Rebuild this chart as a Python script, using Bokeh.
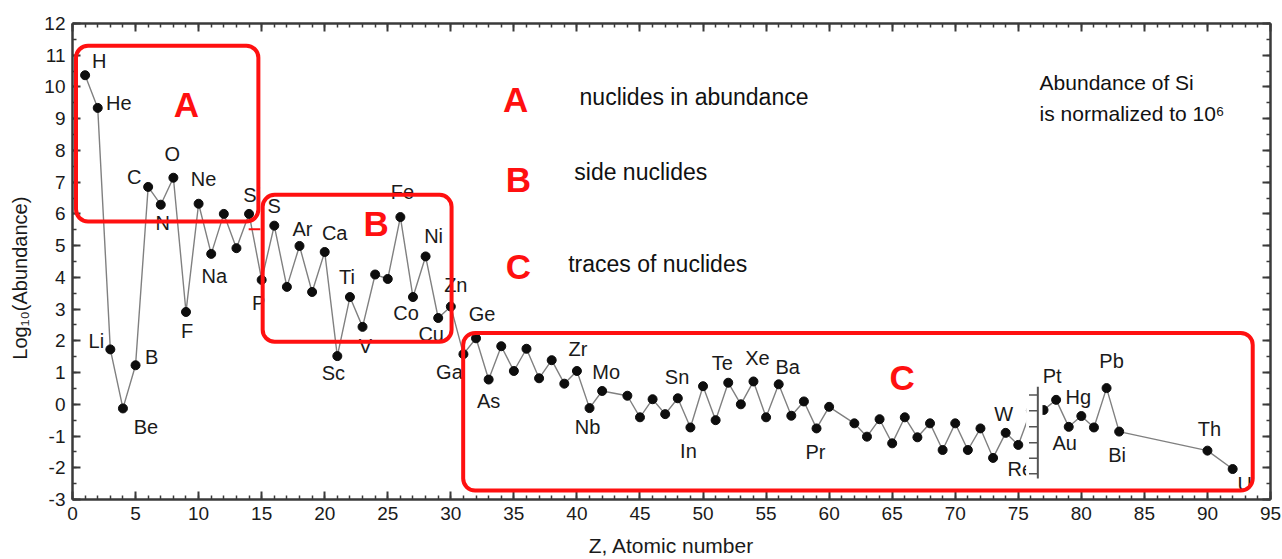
import math
from bokeh.plotting import figure
from bokeh.models import (Range1d, LinearAxis, SingleIntervalTicker, BoxAnnotation,
                          Label, ColumnDataSource, CustomLabelingPolicy,
                          CustomJSTickFormatter)
from bokeh.core.properties import value
from bokeh.embed import file_html
from bokeh.resources import INLINE

# ---------------- data ----------------
Z = [1, 2, 3, 4, 5, 6, 7, 8, 9, 10, 11, 12, 13, 14, 15, 16, 17, 18, 19, 20,
     21, 22, 23, 24, 25, 26, 27, 28, 29, 30, 31, 32, 33, 34, 35, 36, 37, 38, 39, 40,
     41, 42, 44, 45, 46, 47, 48, 49, 50, 51, 52, 53, 54, 55, 56, 57, 58, 59, 60,
     62, 63, 64, 65, 66, 67, 68, 69, 70, 71, 72, 73, 74, 75, 76, 77, 78, 79, 80,
     81, 82, 83, 90, 92]
SYMBOLS = ["H", "He", "Li", "Be", "B", "C", "N", "O", "F", "Ne", "Na", "Mg", "Al", "Si",
           "P", "S", "Cl", "Ar", "K", "Ca", "Sc", "Ti", "V", "Cr", "Mn", "Fe", "Co", "Ni",
           "Cu", "Zn", "Ga", "Ge", "As", "Se", "Br", "Kr", "Rb", "Sr", "Y", "Zr", "Nb",
           "Mo", "Ru", "Rh", "Pd", "Ag", "Cd", "In", "Sn", "Sb", "Te", "I", "Xe", "Cs",
           "Ba", "La", "Ce", "Pr", "Nd", "Sm", "Eu", "Gd", "Tb", "Dy", "Ho", "Er", "Tm",
           "Yb", "Lu", "Hf", "Ta", "W", "Re", "Os", "Ir", "Pt", "Au", "Hg", "Tl", "Pb",
           "Bi", "Th", "U"]
LOG_ABUNDANCE = [10.37, 9.34, 1.73, -0.13, 1.23, 6.85, 6.29, 7.14, 2.91, 6.32, 4.74, 6.00,
                 4.92, 6.00, 3.92, 5.63, 3.70, 4.99, 3.54, 4.80, 1.52, 3.38, 2.44, 4.09,
                 3.95, 5.90, 3.38, 4.66, 2.72, 3.08, 1.58, 2.08, 0.78, 1.83, 1.05, 1.75,
                 0.82, 1.39, 0.65, 1.05, -0.12, 0.42, 0.27, -0.41, 0.16, -0.31, 0.19,
                 -0.73, 0.57, -0.50, 0.68, 0.00, 0.72, -0.41, 0.63, -0.36, 0.09, -0.76,
                 -0.08, -0.60, -1.02, -0.47, -1.23, -0.41, -1.04, -0.60, -1.44, -0.60,
                 -1.44, -0.76, -1.69, -0.90, -1.28, -0.20, -0.18, 0.14, -0.71, -0.37,
                 -0.73, 0.51, -0.86, -1.46, -2.04]

X_RANGE = (0, 95)
Y_RANGE = (-3, 12)
X_TITLE = "Z, Atomic number"
Y_TITLE = "Log\u2081\u2080(Abundance)"

# labelled elements -> pixel offset of the label from its point (right, down)
LABEL_OFFSETS = {
    "H": (14, -14), "He": (21, -5), "Li": (-14, -8), "Be": (23, 19), "B": (16, -8),
    "C": (-14, -10), "N": (2, 18), "O": (-1, -24), "F": (1, 19), "Ne": (5, -25),
    "Na": (3, 22), "Si": (3, -19), "P": (-3, 23), "S": (0, -20), "Ar": (3, -17),
    "Ca": (10, -19), "Sc": (-4, 17), "Ti": (-3, -20), "V": (3, 19), "Fe": (2, -25),
    "Co": (-7, 16), "Ni": (8, -20), "Cu": (-7, 16), "Zn": (5, -22), "Ga": (-14, 18),
    "Ge": (6, -24), "As": (0, 21), "Zr": (1, -22), "Nb": (-2, 19), "Mo": (4, -19),
    "Sn": (-26, -9), "In": (-2, 24), "Te": (-6, -20), "Xe": (4, -23), "Ba": (9, -17),
    "Pr": (-1, 24), "W": (-2, -19), "Re": (2, 24), "Pt": (-4, -24), "Au": (-4, 16),
    "Hg": (-3, -19), "Pb": (5, -27), "Bi": (-2, 23), "Th": (2, -22), "U": (12, 15),
}

# region boxes (data units)
BOXES = {
    "A": dict(left=0.28, right=14.74, top=11.30, bottom=5.76),
    "B": dict(left=15.08, right=30.06, top=6.60, bottom=1.97),
    "C": dict(left=30.98, right=93.59, top=2.25, bottom=-2.72),
}
BOX_LETTERS = {"A": (9.04, 9.44), "B": (24.07, 5.70), "C": (65.79, 0.84)}
LEGEND = [("A", "nuclides in abundance", (35.15, 9.59), (40.21, 9.69)),
          ("B", "side nuclides", (35.36, 7.07), (39.79, 7.33)),
          ("C", "traces of nuclides", (35.36, 4.35), (39.31, 4.42))]

FONT_NAME = "Liberation Sans"
FONT = value(FONT_NAME)
RED = "#ff1010"
AXIS_COLOR = "#3a3a3a"

p = figure(width=1282, height=559, x_range=Range1d(*X_RANGE), y_range=Range1d(*Y_RANGE),
           output_backend="svg", toolbar_location=None,
           min_border_left=72, min_border_right=12, min_border_top=23, min_border_bottom=60)
p.outline_line_color = None
p.xgrid.visible = False
p.ygrid.visible = False
p.background_fill_color = "white"
p.border_fill_color = "white"


def style_axis(ax, show_labels):
    ax.axis_line_color = AXIS_COLOR
    ax.axis_line_width = 2.5
    ax.major_tick_line_color = AXIS_COLOR
    ax.minor_tick_line_color = AXIS_COLOR
    ax.major_tick_line_width = 2
    ax.minor_tick_line_width = 1.5
    ax.major_tick_in = 8
    ax.major_tick_out = 0
    ax.minor_tick_in = 4
    ax.minor_tick_out = 0
    if show_labels:
        ax.formatter = CustomJSTickFormatter(code="return tick.toString()")
        ax.major_label_text_font = FONT_NAME
        ax.major_label_text_font_size = "19px"
        ax.major_label_text_color = "#1a1a1a"
        ax.major_label_standoff = 7
        ax.axis_label_text_font = FONT_NAME
        ax.axis_label_text_font_style = "normal"
        ax.axis_label_text_color = "#1a1a1a"
    else:
        ax.major_label_policy = CustomLabelingPolicy(code="return new Set()")
        ax.major_label_text_font_size = "1px"
        ax.major_label_standoff = 0


p.xaxis.ticker = SingleIntervalTicker(interval=5, num_minor_ticks=5)
p.yaxis.ticker = SingleIntervalTicker(interval=1, num_minor_ticks=2)
style_axis(p.xaxis[0], True)
style_axis(p.yaxis[0], True)
p.xaxis.axis_label = X_TITLE
p.xaxis.axis_label_text_font_size = "21px"
p.xaxis.axis_label_standoff = 11
# pad with non-breaking spaces so the rotated title sits a bit lower, as in the source
p.yaxis.axis_label = Y_TITLE + "\u00a0" * 6
p.yaxis.axis_label_text_font_size = "20px"
p.yaxis.axis_label_standoff = 10

top_ax = LinearAxis(ticker=SingleIntervalTicker(interval=5, num_minor_ticks=5))
right_ax = LinearAxis(ticker=SingleIntervalTicker(interval=1, num_minor_ticks=2))
style_axis(top_ax, False)
style_axis(right_ax, False)
p.add_layout(top_ax, "above")
p.add_layout(right_ax, "right")

# ------------- series -------------
src = ColumnDataSource(dict(z=Z, v=LOG_ABUNDANCE))
p.line("z", "v", source=src, line_color="#808080", line_width=1.4)
p.scatter("z", "v", source=src, size=9, fill_color="#0d0d0d", line_color="#0d0d0d")

lx, ly, lt, ldx, ldy = [], [], [], [], []
for z, v, s in zip(Z, LOG_ABUNDANCE, SYMBOLS):
    if s in LABEL_OFFSETS:
        dx, dy = LABEL_OFFSETS[s]
        lx.append(z); ly.append(v); lt.append(s); ldx.append(dx); ldy.append(dy)
lsrc = ColumnDataSource(dict(x=lx, y=ly, t=lt, dx=ldx, dy=ldy))
p.text("x", "y", text="t", x_offset="dx", y_offset="dy", source=lsrc,
       text_align="center", text_baseline="middle", text_font=FONT,
       text_font_size="20px", text_color="#1a1a1a")

# white patch with a stray axis (artifact of the source image)
p.quad(left=[75.62], right=[76.92], top=[0.55], bottom=[-2.34],
       fill_color="white", line_color=None)
p.segment(x0=[76.55], y0=[0.55], x1=[76.55], y1=[-2.34], line_color="#555555", line_width=2)
inset_ticks = [0.29, -0.20, -0.71, -1.21, -1.70, -2.19]
p.segment(x0=[75.85] * len(inset_ticks), y0=inset_ticks, x1=[76.55] * len(inset_ticks),
          y1=inset_ticks, line_color="#555555", line_width=1.5)
# small red stroke next to Si
p.segment(x0=[13.97], y0=[5.52], x1=[14.89], y1=[5.52], line_color=RED, line_width=2)

# ------------- region boxes -------------
for k, b in BOXES.items():
    p.add_layout(BoxAnnotation(**b, fill_color=None, fill_alpha=0, line_color=RED,
                               line_width=4, line_alpha=1, border_radius=12))
for k, (x, y) in BOX_LETTERS.items():
    p.add_layout(Label(x=x, y=y, text=k, text_color=RED, text_font=FONT_NAME,
                       text_font_style="bold", text_font_size="35px",
                       text_align="center", text_baseline="middle"))
for letter, desc, (lxp, lyp), (dxp, dyp) in LEGEND:
    p.add_layout(Label(x=lxp, y=lyp, text=letter, text_color=RED, text_font=FONT_NAME,
                       text_font_style="bold", text_font_size="35px",
                       text_align="center", text_baseline="middle"))
    p.add_layout(Label(x=dxp, y=dyp, text=desc, text_color="#111111", text_font=FONT_NAME,
                       text_font_size="23px", text_align="left", text_baseline="middle"))

p.add_layout(Label(x=76.69, y=10.14, text="Abundance of Si", text_color="#111111",
                   text_font=FONT_NAME, text_font_size="21px", text_baseline="middle"))
p.add_layout(Label(x=76.69, y=9.16, text="is normalized to 10\u2076", text_color="#111111",
                   text_font=FONT_NAME, text_font_size="21px", text_baseline="middle"))

open("out.html", "w").write(file_html(p, INLINE))
